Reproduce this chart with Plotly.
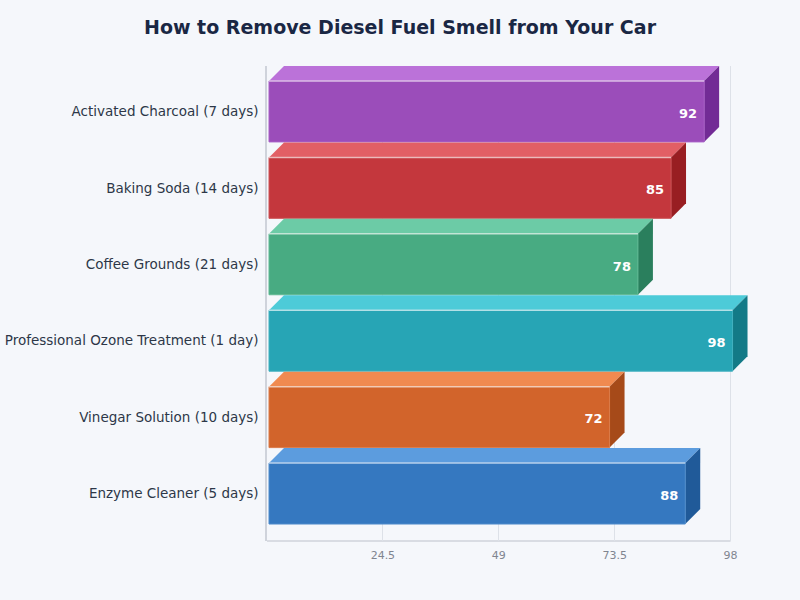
import plotly.graph_objects as go

categories = ["Activated Charcoal (7 days)", "Baking Soda (14 days)", "Coffee Grounds (21 days)",
              "Professional Ozone Treatment (1 day)", "Vinegar Solution (10 days)", "Enzyme Cleaner (5 days)"]
values = [92, 85, 78, 98, 72, 88]
front_colors = ["#9b4dba", "#c4373d", "#48ab82", "#27a5b5", "#d2642b", "#3578c0"]
top_colors = ["#bb72d9", "#e25f65", "#6ccba6", "#4dcbd8", "#f08a50", "#5c9cde"]
side_colors = ["#722b95", "#981e22", "#2a7f5d", "#137a87", "#a64a19", "#205a99"]
edge_colors = ["#a85fc6", "#cc5357", "#5fb892", "#3fb0bf", "#da7a48", "#4f8ccc"]
x_ticks = [24.5, 49, 73.5, 98]
x_tick_labels = ["24.5", "49", "73.5", "98"]
x_max = 98

# pixel geometry of the plot area and the pseudo-3D extrusion
L, R, T, B = 266.5, 730.5, 66, 541.5
R_EXT = 770
BAND = 76.5
BAR_H = 61
DEPTH = 15
PAD = 2
px_x = x_max / (R - L)
px_y = 1 / BAND
dx, dy = DEPTH * px_x, DEPTH * px_y
off = PAD * px_x
half = BAR_H * px_y / 2
top_range = -(111.5 - T) * px_y
bottom_range = top_range + (B - T) * px_y
axis_end = (R_EXT - L) * px_x

fig = go.Figure()
for i, (v, c) in enumerate(zip(values, categories)):
    x0, x1 = off, v + off
    y0, y1 = i - half, i + half
    fig.add_trace(go.Scatter(x=[x0, x1, x1 + dx, x0 + dx, x0], y=[y0, y0, y0 - dy, y0 - dy, y0],
                             fill="toself", fillcolor=top_colors[i], mode="none",
                             hoverinfo="skip", showlegend=False))
    fig.add_trace(go.Scatter(x=[x1, x1 + dx, x1 + dx, x1, x1], y=[y0, y0 - dy, y1 - dy, y1, y0],
                             fill="toself", fillcolor=side_colors[i], mode="none",
                             hoverinfo="skip", showlegend=False))
    fig.add_trace(go.Scatter(x=[x0, x1, x1, x0, x0], y=[y0, y0, y1, y1, y0],
                             fill="toself", fillcolor=front_colors[i], mode="lines",
                             line=dict(color=edge_colors[i], width=1),
                             hoverinfo="skip", showlegend=False))
    fig.add_trace(go.Scatter(x=[x0, x1], y=[y0, y0], mode="lines",
                             line=dict(color="rgba(255,255,255,0.6)", width=1.5),
                             hoverinfo="skip", showlegend=False))
    fig.add_trace(go.Scatter(x=[x1 - 7 * px_x], y=[i + 3 * px_y], mode="text", text=[str(v)],
                             textposition="middle left",
                             textfont=dict(family="DejaVu Sans", size=13, color="#ffffff", weight="bold"),
                             hoverinfo="skip", showlegend=False))

fig.update_layout(
    width=800, height=600, autosize=False,
    paper_bgcolor="#f5f7fb", plot_bgcolor="#f5f7fb",
    margin=dict(l=L, r=800 - R_EXT, t=T, b=600 - B, autoexpand=False),
    title=dict(text="How to Remove Diesel Fuel Smell from Your Car", x=0.5, xanchor="center",
               y=1 - 27 / 600, yanchor="middle",
               font=dict(family="DejaVu Sans", size=19, color="#1a2744", weight="bold")),
    xaxis=dict(range=[0, axis_end], tickvals=x_ticks, ticktext=x_tick_labels, showgrid=True,
               gridcolor="#dde1e8", gridwidth=1, zeroline=False, showline=False,
               ticks="", tickfont=dict(family="DejaVu Sans", size=11, color="#808590"),
               ticklabelstandoff=6),
    yaxis=dict(range=[bottom_range, top_range], tickmode="array", tickvals=list(range(len(categories))),
               ticktext=categories, showgrid=False, zeroline=False, showline=True, linecolor="#cfd3db",
               linewidth=1.5, ticks="", tickfont=dict(family="DejaVu Sans", size=13.5, color="#2d3748"),
               ticklabelstandoff=4),
    shapes=[dict(type="line", xref="x", yref="y domain", x0=0, x1=x_max, y0=0, y1=0,
                 line=dict(color="#cfd3db", width=1.5), layer="below")],
)
fig.write_html("out.html", config={"displayModeBar": False},
               post_script="document.body.style.margin='0';document.documentElement.style.background='#f5f7fb';")
